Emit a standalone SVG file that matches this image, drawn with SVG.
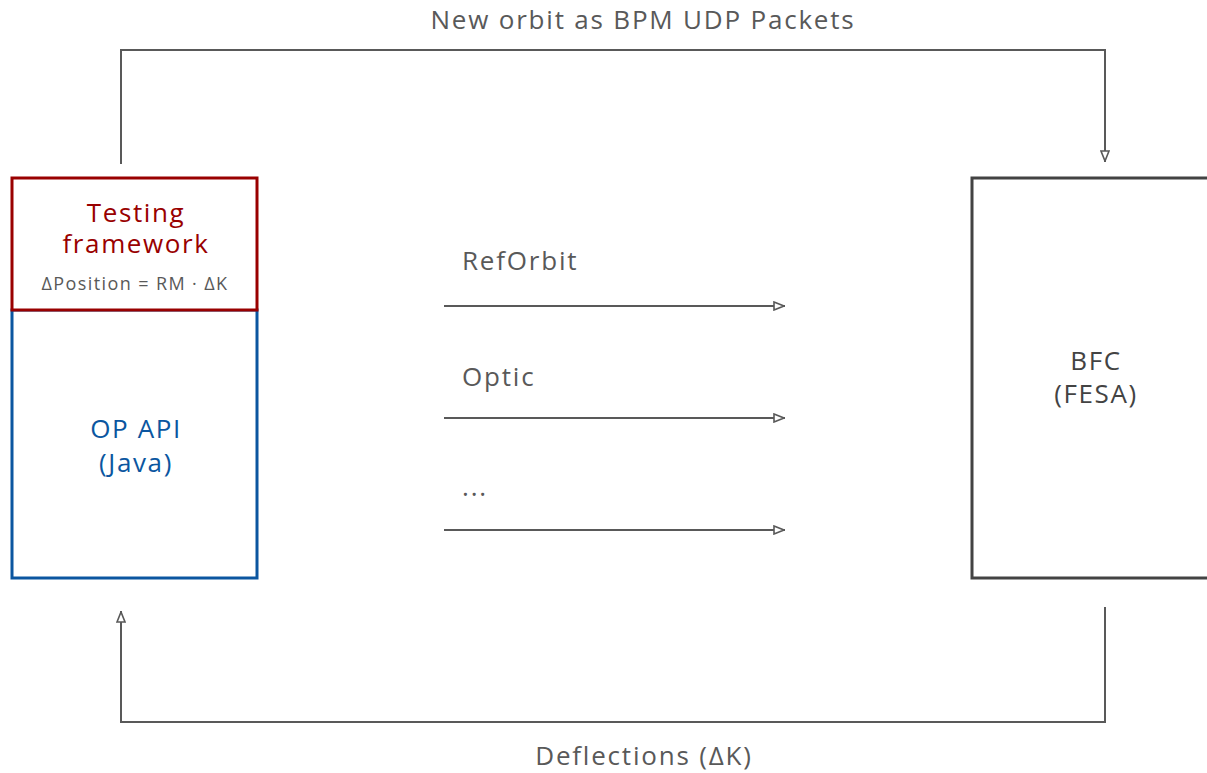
<svg xmlns="http://www.w3.org/2000/svg" width="1207" height="773" viewBox="0 0 1207 773">
  <style>
    text { font-family: "Open Sans", "Noto Sans", "Liberation Sans", sans-serif; font-weight: 500; }
    .lbl { fill: #595959; font-size: 26px; letter-spacing: 1.8px; }
    .node-title { font-size: 26px; letter-spacing: 1.6px; }
    .conn { fill: none; stroke: #595959; stroke-width: 2; }
  </style>
  <defs>
    <marker id="open-arrow" viewBox="0 0 12 10" refX="12" refY="5" markerWidth="12" markerHeight="10" markerUnits="userSpaceOnUse" orient="auto">
      <path d="M1,1 L11,5 L1,9 Z" fill="#ffffff" stroke="#595959" stroke-width="1.6"/>
    </marker>
  </defs>
  <rect width="1207" height="773" fill="#ffffff"/>

  <!-- feedback loop and data links -->
  <g id="connectors">
    <path class="conn" d="M121,164 V50 H1105 V162" marker-end="url(#open-arrow)"/>
    <path class="conn" d="M1105,607 V722 H121 V611" marker-end="url(#open-arrow)"/>
    <path class="conn" d="M444,306 H785" marker-end="url(#open-arrow)"/>
    <path class="conn" d="M444,418 H785" marker-end="url(#open-arrow)"/>
    <path class="conn" d="M444,530 H785" marker-end="url(#open-arrow)"/>
    <text class="lbl" x="643" y="29" text-anchor="middle">New orbit as BPM UDP Packets</text>
    <text class="lbl" x="644" y="765" text-anchor="middle">Deflections (ΔK)</text>
    <text class="lbl" x="462" y="270">RefOrbit</text>
    <text class="lbl" x="462" y="386">Optic</text>
    <text class="lbl" x="462" y="496">...</text>
  </g>

  <g id="op-api">
    <rect x="12" y="310" width="245" height="268" fill="#ffffff" stroke="#0b56a0" stroke-width="3"/>
    <text class="node-title" x="136" y="438" text-anchor="middle" fill="#0b56a0">OP API</text>
    <text class="node-title" x="136" y="472" text-anchor="middle" fill="#0b56a0">(Java)</text>
  </g>

  <g id="testing-framework">
    <rect x="12" y="178" width="245" height="132" fill="#ffffff" stroke="#990000" stroke-width="3"/>
    <text class="node-title" x="136" y="222" text-anchor="middle" fill="#990000">Testing</text>
    <text class="node-title" x="136" y="253" text-anchor="middle" fill="#990000">framework</text>
    <text x="135" y="290" text-anchor="middle" font-size="18" letter-spacing="1.4" fill="#595959">ΔPosition = RM · ΔK</text>
  </g>

  <g id="bfc">
    <rect x="972" y="178" width="250" height="400" fill="#ffffff" stroke="#434343" stroke-width="3"/>
    <text class="node-title" x="1096" y="370" text-anchor="middle" fill="#434343">BFC</text>
    <text class="node-title" x="1096" y="403" text-anchor="middle" fill="#434343">(FESA)</text>
  </g>
</svg>
